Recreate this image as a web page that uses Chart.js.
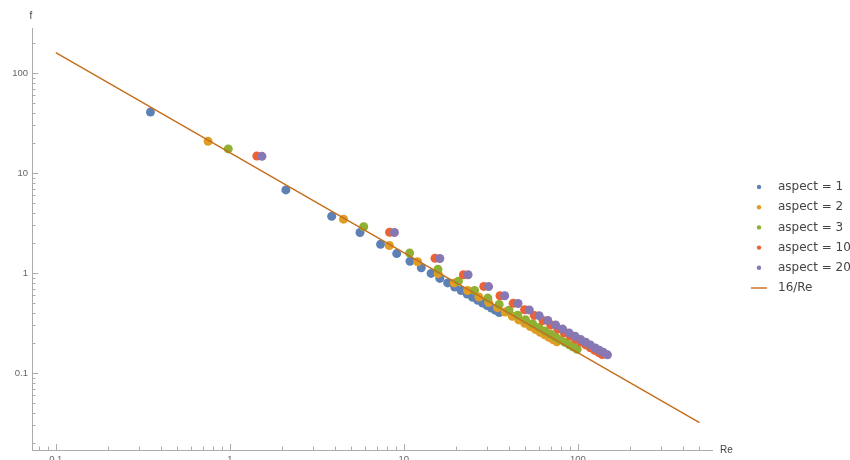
<!DOCTYPE html>
<html><head><meta charset="utf-8">
<script src="https://cdn.jsdelivr.net/npm/chart.js@4/dist/chart.umd.min.js"></script>
<style>html,body{margin:0;padding:0;background:#fff;overflow:hidden}canvas{display:block}</style>
</head><body>
<canvas id="c" width="850" height="460"></canvas>
<script>
// ---- data ----
const seriesLabels = ['aspect = 1', 'aspect = 2', 'aspect = 3', 'aspect = 10', 'aspect = 20'];

const re1 = [0.35, 2.10, 3.85, 5.60, 7.35, 9.10, 10.85, 12.6, 14.35, 16.1, 17.85, 19.6, 21.35, 23.1, 24.85, 26.6, 28.35, 30.1, 31.85, 33.6, 35.35];
const f1  = [40.66, 6.776, 3.696, 2.541, 1.936, 1.564, 1.312, 1.129, 0.992, 0.884, 0.797, 0.726, 0.667, 0.616, 0.573, 0.535, 0.502, 0.473, 0.447, 0.424, 0.403];

const re2 = [0.75, 4.50, 8.25, 12.0, 15.75, 19.5, 23.25, 27.0, 30.75, 34.5, 38.25, 42.0, 45.75, 49.5, 53.25, 57.0, 60.75, 64.5, 68.25, 72.0, 75.75];
const f2  = [20.73, 3.456, 1.885, 1.296, 0.987, 0.797, 0.669, 0.576, 0.506, 0.451, 0.407, 0.370, 0.340, 0.314, 0.292, 0.273, 0.256, 0.241, 0.228, 0.216, 0.205];

const re3 = [0.98, 5.88, 10.8, 15.7, 20.6, 25.5, 30.4, 35.3, 40.2, 45.1, 50.0, 54.9, 59.8, 64.7, 69.6, 74.5, 79.4, 84.3, 89.2, 94.1, 99.0];
const f3  = [17.44, 2.906, 1.582, 1.089, 0.830, 0.670, 0.562, 0.484, 0.425, 0.379, 0.342, 0.311, 0.286, 0.264, 0.246, 0.229, 0.215, 0.203, 0.192, 0.182, 0.173];

const re10 = [1.43, 8.28, 15.1, 22.0, 28.8, 35.7, 42.5, 49.4, 56.2, 63.1, 69.9, 76.8, 83.6, 90.5, 97.3, 104, 111, 118, 125, 132, 138];
const f10  = [14.80, 2.557, 1.402, 0.962, 0.735, 0.593, 0.498, 0.429, 0.377, 0.335, 0.303, 0.276, 0.253, 0.234, 0.218, 0.204, 0.191, 0.179, 0.169, 0.160, 0.153];

const re20 = [1.53, 8.83, 16.1, 23.4, 30.7, 38.0, 45.3, 52.6, 59.9, 67.2, 74.5, 81.8, 89.1, 96.4, 104, 111, 118, 126, 133, 140, 148];
const f20  = [14.69, 2.546, 1.396, 0.961, 0.732, 0.592, 0.496, 0.427, 0.375, 0.335, 0.302, 0.275, 0.252, 0.233, 0.216, 0.203, 0.191, 0.178, 0.169, 0.161, 0.152];

const lineLabel = '16/Re';
const lineRe = [0.1, 500];
const lineF  = [160, 0.032];

const xTickValues = [0.1, 1, 10, 100];
const xTickLabels = ['0.1', '1', '10', '100'];
const yTickValues = [0.1, 1, 10, 100];
const yTickLabels = ['0.1', '1', '10', '100'];
const xTitle = 'Re';
const yTitle = 'f';

// ---- build ----
const colors = ['#5E81B5', '#E19C24', '#8FB032', '#EB6235', '#8778B3'];
const lineColor = '#C56E1A';
const allRe = [re1, re2, re3, re10, re20];
const allF = [f1, f2, f3, f10, f20];

const pts = (xs, ys) => xs.map((x, i) => ({ x: x, y: ys[i] }));

const datasets = seriesLabels.map((lab, i) => ({
  label: lab,
  data: pts(allRe[i], allF[i]),
  backgroundColor: colors[i],
  borderColor: colors[i],
  borderWidth: 0,
  pointRadius: 4.5,
  pointBorderWidth: 0,
  order: 5 - i
}));
datasets.push({
  label: lineLabel,
  data: pts(lineRe, lineF),
  showLine: true,
  pointRadius: 0,
  borderColor: lineColor,
  backgroundColor: lineColor,
  borderWidth: 1.4,
  order: 0,
  isLine: true
});

const AXIS_COL = '#ababab';
const FONT = '"Liberation Sans", Arial, sans-serif';

const deco = {
  id: 'deco',
  beforeDatasetsDraw(chart) {
    const { ctx, chartArea: a, scales: { x, y } } = chart;
    const marks = (s) => {
      const out = [];
      const e0 = Math.floor(Math.log10(s.min)), e1 = Math.ceil(Math.log10(s.max));
      for (let e = e0; e <= e1; e++) for (let d = 1; d < 10; d++) {
        const v = d * Math.pow(10, e);
        if (v >= s.min && v <= s.max) out.push({ v: v, major: d === 1 });
      }
      return out;
    };
    ctx.save();
    ctx.strokeStyle = AXIS_COL;
    ctx.lineWidth = 1;
    ctx.beginPath();
    for (const t of marks(x)) {
      const px = Math.round(x.getPixelForValue(t.v)) + 0.5;
      const len = t.major ? 6 : 3.5;
      ctx.moveTo(px, a.bottom); ctx.lineTo(px, a.bottom - len);
    }
    for (const t of marks(y)) {
      const py = Math.round(y.getPixelForValue(t.v)) + 0.5;
      const len = t.major ? 6 : 3.5;
      ctx.moveTo(a.left, py); ctx.lineTo(a.left + len, py);
    }
    ctx.stroke();
    ctx.restore();
  },
  afterDraw(chart) {
    const { ctx, chartArea: a } = chart;
    ctx.save();
    // axis titles
    ctx.fillStyle = '#444';
    ctx.font = '10px ' + FONT;
    ctx.textBaseline = 'middle';
    ctx.textAlign = 'left';
    ctx.fillText(xTitle, a.right + 8, a.bottom);
    ctx.textAlign = 'center';
    ctx.fillText(yTitle, a.left - 1, 16);
    // legend
    ctx.font = '12px "DejaVu Sans", sans-serif';
    ctx.textAlign = 'left';
    chart.data.datasets.forEach((ds, i) => {
      const yy = 187 + i * 20.2;
      if (ds.isLine) {
        ctx.strokeStyle = ds.borderColor;
        ctx.lineWidth = 1.4;
        ctx.beginPath(); ctx.moveTo(751, yy); ctx.lineTo(767, yy); ctx.stroke();
      } else {
        ctx.fillStyle = ds.backgroundColor;
        ctx.beginPath(); ctx.arc(759, yy, 2.2, 0, Math.PI * 2); ctx.fill();
      }
      ctx.fillStyle = '#444';
      ctx.fillText(ds.label, 778, yy);
    });
    ctx.restore();
  }
};

new Chart(document.getElementById('c'), {
  type: 'scatter',
  data: { datasets: datasets },
  options: {
    responsive: false,
    animation: false,
    events: [],
    layout: { padding: { left: 0, right: 138, top: 28, bottom: 0 } },
    plugins: { legend: { display: false }, tooltip: { enabled: false } },
    scales: {
      x: {
        type: 'logarithmic', position: 'bottom', min: 0.073, max: 590,
        grid: { display: false, drawTicks: false },
        border: { display: true, color: AXIS_COL, width: 1 },
        afterBuildTicks: (s) => { s.ticks = xTickValues.map(v => ({ value: v })); },
        afterFit: (s) => { s.height = 10; },
        ticks: {
          autoSkip: false, maxRotation: 0, padding: 4, color: '#666',
          font: { family: FONT, size: 9.5 },
          callback: (v) => { const i = xTickValues.indexOf(v); return i >= 0 ? xTickLabels[i] : ''; }
        }
      },
      y: {
        type: 'logarithmic', position: 'left', min: 0.017, max: 282,
        grid: { display: false, drawTicks: false },
        border: { display: true, color: AXIS_COL, width: 1 },
        afterBuildTicks: (s) => { s.ticks = yTickValues.map(v => ({ value: v })); },
        afterFit: (s) => { s.width = 32; },
        ticks: {
          autoSkip: false, padding: 4, color: '#666',
          font: { family: FONT, size: 9.5 },
          callback: (v) => { const i = yTickValues.indexOf(v); return i >= 0 ? yTickLabels[i] : ''; }
        }
      }
    }
  },
  plugins: [deco]
});
</script>
</body></html>
